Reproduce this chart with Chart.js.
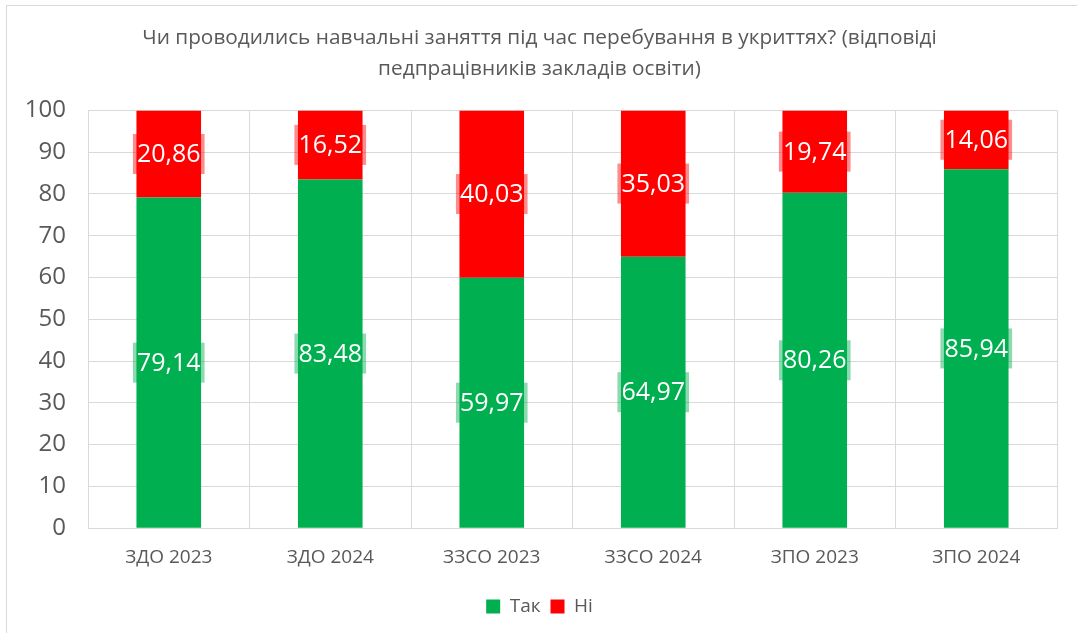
<!DOCTYPE html>
<html>
<head>
<meta charset="utf-8">
<script src="https://cdn.jsdelivr.net/npm/chart.js@4.4.1/dist/chart.umd.min.js"></script>
<style>
  html, body { margin: 0; padding: 0; background: #fff; }
  #wrap { position: relative; width: 1077px; height: 633px; }
  #frame { position: absolute; left: 6px; top: 5px; right: -2px; bottom: -2px; border: 1px solid #d9d9d9; }
  canvas { position: absolute; left: 0; top: 0; }
</style>
</head>
<body>
<div id="wrap">
  <div id="frame"></div>
  <canvas id="myChart" width="1077" height="633"></canvas>
</div>
<script>
// дані з діаграми
const categories = ['ЗДО 2023', 'ЗДО 2024', 'ЗЗСО 2023', 'ЗЗСО 2024', 'ЗПО 2023', 'ЗПО 2024'];
const yesValues = [79.14, 83.48, 59.97, 64.97, 80.26, 85.94];
const noValues = [20.86, 16.52, 40.03, 35.03, 19.74, 14.06];
const titleLines = ['Чи проводились навчальні заняття під час перебування в укриттях? (відповіді', 'педпрацівників закладів освіти)'];

const fontName = "'Open Sans', sans-serif";

// підписи значень у центрі сегментів
const valueLabels = {
    id: 'valueLabels',
    afterDatasetsDraw(chart) {
        const ctx = chart.ctx;
        ctx.save();
        ctx.font = '25px ' + fontName;
        ctx.textAlign = 'center';
        ctx.textBaseline = 'middle';
        chart.data.datasets.forEach(function (ds, i) {
            const meta = chart.getDatasetMeta(i);
            meta.data.forEach(function (bar, j) {
                const p = bar.getProps(['x', 'y', 'base'], true);
                const cy = (p.y + p.base) / 2;
                const txt = ds.data[j].toFixed(2).replace('.', ',');
                const w = ctx.measureText(txt).width + 8;
                const h = 40;
                ctx.fillStyle = ds.labelBg;
                ctx.fillRect(p.x - w / 2, cy - h / 2, w, h);
                ctx.fillStyle = '#ffffff';
                ctx.fillText(txt, p.x, cy + 1);
            });
        });
        ctx.restore();
    }
};

const ctx = document.getElementById('myChart').getContext('2d');
const myChart = new Chart(ctx, {
    type: 'bar',
    data: {
        labels: categories,
        datasets: [
            {
                label: 'Так',
                data: yesValues,
                backgroundColor: '#00B050',
                labelBg: 'rgba(0,176,80,0.45)',
                categoryPercentage: 1,
                barPercentage: 0.4
            },
            {
                label: 'Ні',
                data: noValues,
                backgroundColor: '#FF0000',
                labelBg: 'rgba(255,0,0,0.45)',
                categoryPercentage: 1,
                barPercentage: 0.4
            }
        ]
    },
    options: {
        responsive: false,
        animation: false,
        layout: { padding: { left: 22, right: 20, top: 12, bottom: 7 } },
        plugins: {
            title: {
                display: true,
                text: titleLines,
                color: '#595959',
                font: { family: fontName, size: 20.8, weight: 'normal', lineHeight: 1.5 },
                padding: { top: 10, bottom: 26 }
            },
            legend: {
                position: 'bottom',
                labels: {
                    color: '#595959',
                    font: { family: fontName, size: 19 },
                    boxWidth: 14,
                    boxHeight: 14,
                    padding: 10
                }
            },
            tooltip: { enabled: false }
        },
        scales: {
            x: {
                stacked: true,
                grid: { color: '#d9d9d9', offset: true, drawTicks: false },
                border: { color: '#d9d9d9' },
                ticks: { color: '#595959', font: { family: fontName, size: 19 }, padding: 18 }
            },
            y: {
                stacked: true,
                min: 0,
                max: 100,
                afterFit: function (scale) { scale.width = 66; },
                grid: { color: '#d9d9d9', drawTicks: false },
                border: { display: false },
                ticks: { stepSize: 10, color: '#595959', font: { family: fontName, size: 24 }, padding: 22 }
            }
        }
    },
    plugins: [valueLabels]
});
</script>
</body>
</html>
